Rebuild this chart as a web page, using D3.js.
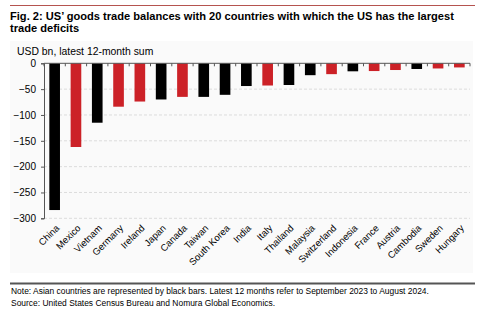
<!DOCTYPE html>
<html>
<head>
<meta charset="utf-8">
<script src="https://cdn.jsdelivr.net/npm/d3@7"></script>
<style>
  body { margin: 0; background: #fff; }
  text { font-family: "Liberation Sans", Arial, sans-serif; }
</style>
</head>
<body>
<div class="chart"></div>
<script>
// data
const countries = ["China", "Mexico", "Vietnam", "Germany", "Ireland", "Japan", "Canada", "Taiwan",
  "South Korea", "India", "Italy", "Thailand", "Malaysia", "Switzerland", "Indonesia", "France",
  "Austria", "Cambodia", "Sweden", "Hungary"];
const balances = [-284, -162, -115, -84, -74, -70, -65, -65, -61, -44, -43, -42, -23, -21, -15.5, -15, -13, -11, -10, -8];
const asian = ["China", "Vietnam", "Japan", "Taiwan", "South Korea", "India", "Thailand", "Malaysia", "Indonesia", "Cambodia"];
const yTicks = [0, -50, -100, -150, -200, -250, -300];

const data = countries.map((c, i) => ({country: c, value: balances[i]}));

const width = 500, height = 314;
const svg = d3.select(".chart").append("svg")
  .attr("width", width)
  .attr("height", height);

// top rule
svg.append("line")
  .attr("x1", 10).attr("x2", 475).attr("y1", 5.5).attr("y2", 5.5)
  .attr("stroke", "#b5534f").attr("stroke-width", 1);

// title
svg.append("text").attr("x", 10).attr("y", 20)
  .style("font-size", "11.1px").style("font-weight", "bold")
  .text("Fig. 2: US\u2019 goods trade balances with 20 countries with which the US has the largest");
svg.append("text").attr("x", 10).attr("y", 32)
  .style("font-size", "11.1px").style("font-weight", "bold")
  .text("trade deficits");

// light panel behind the chart
svg.append("rect")
  .attr("x", 10).attr("y", 41).attr("width", 463).attr("height", 232)
  .attr("fill", "#fafafa");

svg.append("text").attr("x", 17).attr("y", 55)
  .style("font-size", "10.4px")
  .text("USD bn, latest 12-month sum");

const left = 44, right = 470;
const x = d3.scaleBand().domain(countries).range([left, right]).paddingInner(0.5).paddingOuter(0.25);
const y = d3.scaleLinear().domain([-300, 0]).range([218.3, 63.3]);

// dashed gridlines
svg.append("g")
  .selectAll("line")
  .data(yTicks.filter(d => d !== 0))
  .join("line")
  .attr("x1", left).attr("x2", right)
  .attr("y1", d => y(d)).attr("y2", d => y(d))
  .attr("stroke", "#dcdcdc").attr("stroke-dasharray", "3,2");

// bars
svg.append("g")
  .selectAll("rect")
  .data(data)
  .join("rect")
  .attr("x", d => x(d.country))
  .attr("y", y(0))
  .attr("width", x.bandwidth())
  .attr("height", d => y(d.value) - y(0))
  .attr("fill", d => asian.includes(d.country) ? "#000000" : "#cc2127");

// y axis
const yAxis = svg.append("g")
  .attr("transform", `translate(${left},0)`)
  .call(d3.axisLeft(y).tickValues(yTicks).tickSize(3).tickPadding(5).tickFormat(d3.format("d")));
yAxis.select(".domain").attr("stroke", "#555");
yAxis.selectAll(".tick line").attr("stroke", "#555");
yAxis.selectAll(".tick text")
  .style("font-family", "Liberation Sans, Arial, sans-serif")
  .style("font-size", "10px").attr("fill", "#000");

// zero line with ticks at band boundaries
const boundary = d3.scaleLinear().domain([0, countries.length]).range([left, right]);
svg.append("line")
  .attr("x1", left).attr("x2", right).attr("y1", y(0)).attr("y2", y(0))
  .attr("stroke", "#555").attr("stroke-width", 1);
svg.append("g")
  .selectAll("line")
  .data(d3.range(countries.length + 1))
  .join("line")
  .attr("x1", d => boundary(d)).attr("x2", d => boundary(d))
  .attr("y1", y(0)).attr("y2", y(0) + 3)
  .attr("stroke", "#555");

// rotated category labels
svg.append("g")
  .selectAll("text")
  .data(countries)
  .join("text")
  .attr("transform", d => `translate(${x(d) + x.bandwidth() / 2 + 3},${y(-300) + 8}) rotate(-45)`)
  .attr("text-anchor", "end")
  .attr("dy", "0.35em")
  .style("font-size", "9.5px")
  .text(d => d);

// bottom rule and notes
svg.append("line")
  .attr("x1", 10).attr("x2", 475).attr("y1", 283.5).attr("y2", 283.5)
  .attr("stroke", "#555").attr("stroke-width", 1.8);
svg.append("text").attr("x", 11).attr("y", 294)
  .style("font-size", "8.45px")
  .text("Note: Asian countries are represented by black bars. Latest 12 months refer to September 2023 to August 2024.");
svg.append("text").attr("x", 11).attr("y", 305.5)
  .style("font-size", "8.45px")
  .text("Source: United States Census Bureau and Nomura Global Economics.");
</script>
</body>
</html>
